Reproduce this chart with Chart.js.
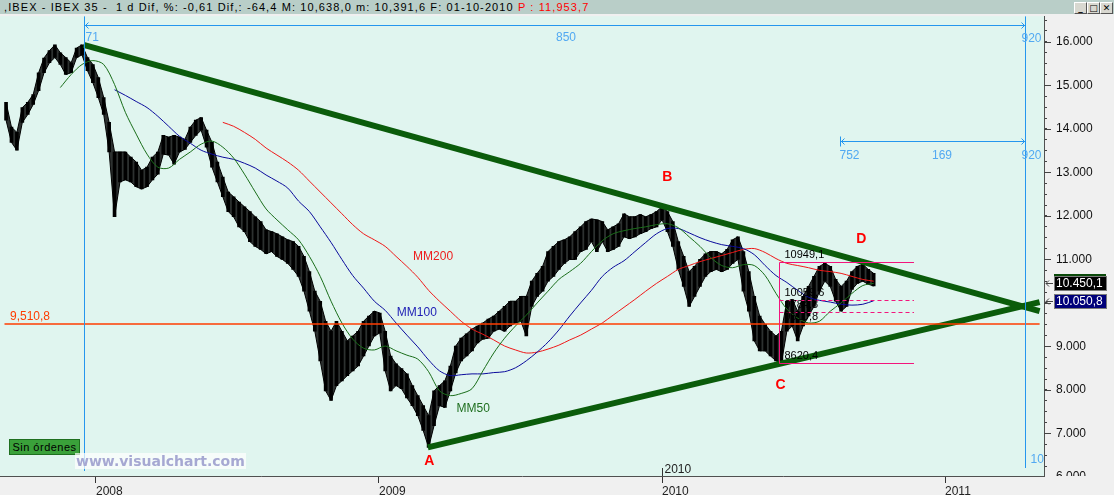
<!DOCTYPE html>
<html>
<head>
<meta charset="utf-8">
<title>IBEX 35</title>
<script src="https://cdn.jsdelivr.net/npm/chart.js@4.4.1/dist/chart.umd.min.js"></script>
<style>
  html, body { margin: 0; padding: 0; background: #f0f0f0; }
  #wrap { position: relative; width: 1114px; height: 495px; overflow: hidden; font-family: "Liberation Sans", Arial, sans-serif; }
  #chart { position: absolute; left: 0; top: 0; }
  #bar { position: absolute; left: 0; top: 0; width: 1114px; height: 14px; background: #b9cec8; }
  #btext { position: absolute; left: 4px; top: 0; font-size: 11px; line-height: 14px; white-space: pre; letter-spacing: 1.1px; color: #000; }
  #btext .p { color: #f00; }
  .wbtn { position: absolute; top: 2px; width: 11px; height: 10px; background: #d8d8d0; border: 1px solid; border-color: #fff #555 #555 #fff; font: bold 9px/10px "DejaVu Sans", sans-serif; text-align: center; color: #000; }
  #orders { position: absolute; left: 9px; top: 439px; width: 69px; height: 14px; background: #3aa13a; border: 1px solid #1f6f1f; font-size: 11px; line-height: 14px; text-align: center; letter-spacing: 0.5px; color: #000; }
  #mark { position: absolute; left: 75px; top: 453px; height: 16px; padding: 0 1px; background: rgba(255,255,255,0.7); font: bold 14px/16px "DejaVu Sans", sans-serif; color: #a6a8d2; }
</style>
</head>
<body>
<div id="wrap">
  <canvas id="chart" width="1114" height="495"></canvas>
  <div id="bar">
    <span id="btext">,IBEX - IBEX 35 -  1 d Dif, %: -0,61 Dif,: -64,4 M: 10,638,0 m: 10,391,6 F: 01-10-2010 <span class="p">P : 11,953,7</span></span>
    <div class="wbtn" style="left:1074px">_</div>
    <div class="wbtn" style="left:1087px">□</div>
    <div class="wbtn" style="left:1100px">✕</div>
  </div>
  <div id="orders">Sin órdenes</div>
  <div id="mark">www.visualchart.com</div>
</div>
<script>
// weekly bars (Fridays)
const weeks = [
  '2007-09-07','2007-09-14','2007-09-21','2007-09-28','2007-10-05','2007-10-12','2007-10-19','2007-10-26','2007-11-02','2007-11-09',
  '2007-11-16','2007-11-23','2007-11-30','2007-12-07','2007-12-14','2007-12-21','2007-12-28','2008-01-04','2008-01-11','2008-01-18',
  '2008-01-25','2008-02-01','2008-02-08','2008-02-15','2008-02-22','2008-02-29','2008-03-07','2008-03-14','2008-03-21','2008-03-28',
  '2008-04-04','2008-04-11','2008-04-18','2008-04-25','2008-05-02','2008-05-09','2008-05-16','2008-05-23','2008-05-30','2008-06-06',
  '2008-06-13','2008-06-20','2008-06-27','2008-07-04','2008-07-11','2008-07-18','2008-07-25','2008-08-01','2008-08-08','2008-08-15',
  '2008-08-22','2008-08-29','2008-09-05','2008-09-12','2008-09-19','2008-09-26','2008-10-03','2008-10-10','2008-10-17','2008-10-24',
  '2008-10-31','2008-11-07','2008-11-14','2008-11-21','2008-11-28','2008-12-05','2008-12-12','2008-12-19','2008-12-26','2009-01-02',
  '2009-01-09','2009-01-16','2009-01-23','2009-01-30','2009-02-06','2009-02-13','2009-02-20','2009-02-27','2009-03-06','2009-03-13',
  '2009-03-20','2009-03-27','2009-04-03','2009-04-10','2009-04-17','2009-04-24','2009-05-01','2009-05-08','2009-05-15','2009-05-22',
  '2009-05-29','2009-06-05','2009-06-12','2009-06-19','2009-06-26','2009-07-03','2009-07-10','2009-07-17','2009-07-24','2009-07-31',
  '2009-08-07','2009-08-14','2009-08-21','2009-08-28','2009-09-04','2009-09-11','2009-09-18','2009-09-25','2009-10-02','2009-10-09',
  '2009-10-16','2009-10-23','2009-10-30','2009-11-06','2009-11-13','2009-11-20','2009-11-27','2009-12-04','2009-12-11','2009-12-18',
  '2009-12-25','2010-01-01','2010-01-08','2010-01-15','2010-01-22','2010-01-29','2010-02-05','2010-02-12','2010-02-19','2010-02-26',
  '2010-03-05','2010-03-12','2010-03-19','2010-03-26','2010-04-02','2010-04-09','2010-04-16','2010-04-23','2010-04-30','2010-05-07',
  '2010-05-14','2010-05-21','2010-05-28','2010-06-04','2010-06-11','2010-06-18','2010-06-25','2010-07-02','2010-07-09','2010-07-16',
  '2010-07-23','2010-07-30','2010-08-06','2010-08-13','2010-08-20','2010-08-27','2010-09-03','2010-09-10','2010-09-17','2010-09-24',
  '2010-10-01'
];
const highs = [
  14610,14040,13920,14490,14610,14790,15290,15630,15800,15930,
  15750,15640,15520,15860,15930,15640,15480,15180,14720,14150,
  13470,13470,13470,13350,13240,13050,13120,13350,13470,13850,
  13810,13850,13810,13760,14040,14200,14260,13970,13690,13240,
  12890,12550,12440,12320,12210,12100,11980,11870,11680,11640,
  11590,11520,11450,11410,11300,11070,10720,10270,10040,9580,
  9350,9580,9350,9130,9240,9350,9580,9700,9810,9770,
  9350,8780,8600,8490,8370,8100,7870,7640,7410,7980,
  8100,8210,8550,9010,9190,9290,9400,9470,9540,9630,
  9700,9810,9920,10040,10040,10150,10150,10500,10680,10840,
  11180,11300,11410,11450,11520,11640,11750,11870,11930,11910,
  11870,11680,11750,11820,12050,11980,11980,12030,11980,12030,
  12100,12210,12100,11870,11410,11070,10720,10840,11000,11130,
  11180,11180,11130,11230,11450,11520,11180,10720,10150,9700,
  9510,9350,9240,9350,10040,10080,9810,10150,10380,10610,
  10840,10910,10840,10540,10380,10500,10720,10840,10890,10770,
  10680
];
const lows = [
  14200,13690,13510,14150,14330,14560,14880,15290,15520,15640,
  15480,15250,15290,15640,15700,15340,15060,14720,14330,13470,
  11980,12780,12830,12780,12670,12620,12670,12830,12960,13420,
  13400,13190,13470,13530,13690,13850,13970,13580,13120,12780,
  12440,12100,11980,11750,11640,11410,11300,11230,11130,11180,
  11070,11000,10910,10770,10610,10270,9810,9350,8670,7980,
  7760,8100,8210,8330,8440,8550,8780,9010,9240,9310,
  8440,7980,8100,8030,7820,7640,7410,7070,6680,7180,
  7640,7600,7980,8390,8670,8780,8900,9080,9170,9190,
  9350,9400,9350,9470,9540,9580,9240,9920,10150,10270,
  10500,10610,10770,10910,11000,11000,11180,11230,11410,11180,
  11410,11180,11230,11300,11520,11480,11520,11590,11640,11710,
  11750,11910,11640,11300,10770,10380,9920,10150,10380,10610,
  10720,10770,10720,10770,10910,11000,10270,9810,9130,8900,
  8900,8780,8670,8620,9350,9470,9130,9470,9700,9920,
  10270,10500,10380,10040,9810,9920,10310,10450,10500,10430,
  10390
];
// moving averages, read every second week
const ma50 = [
  null,null,null,null,null,14950,15250,15480,15570,15480,
  15020,14380,13880,13420,13120,13100,13300,13470,13650,13720,
  13580,13330,12960,12550,12160,11910,11680,11450,11070,10610,
  10040,9540,9170,8960,8920,9010,8900,8800,8710,8420,
  7980,7870,7920,8030,8440,8850,9190,9470,9720,10000,
  10270,10540,10720,10910,11180,11430,11590,11660,11710,11750,
  11800,11820,11730,11520,11300,11040,10860,10810,10880,10860,
  10630,10220,9860,9650,9540,9580,9810,10000,10220,10400,
  10450
];
const ma100 = [
  null,null,null,null,null,null,null,null,null,null,
  14900,14770,14630,14490,14290,14060,13830,13670,13510,13420,
  13350,13300,13210,13100,12940,12800,12640,12340,12100,11750,
  11390,11000,10630,10340,10040,9830,9540,9260,8990,8690,
  8440,8330,8350,8370,8370,8400,8420,8510,8670,8870,
  9100,9380,9700,10000,10290,10610,10820,10970,11180,11390,
  11590,11710,11710,11610,11500,11410,11340,11300,11250,11110,
  10860,10630,10470,10290,10130,10060,10020,9970,9950,9970,
  10050
];
const ma200 = [
  null,null,null,null,null,null,null,null,null,null,
  null,null,null,null,null,null,null,null,null,null,
  14150,14060,13920,13760,13560,13400,13240,13050,12800,12550,
  12300,12050,11800,11590,11450,11300,11070,10840,10590,10290,
  10040,9810,9580,9400,9280,9150,9010,8920,8850,8870,
  8940,9030,9150,9260,9400,9540,9720,9900,10080,10270,
  10450,10610,10770,10860,10950,11020,11090,11160,11230,11250,
  11160,11020,10910,10860,10810,10750,10720,10680,10610,10540,
  10500
];
// triangle lines
const upperTrendDates = ['2007-12-16', '2011-05-03'];
const upperTrend = [15930, 9810];
const lowerTrendDates = ['2009-03-05', '2011-05-03'];
const lowerTrend = [6680, 10020];
// levels
const supportLevel = 9510.8;
const supportDates = ['2007-09-05', '2011-05-03'];
const fibLevels = [10949.1, 10059.6, 9784.8, 9510.8, 8620.4];
const fibText = ['10949,1', '10059,6', '9784,8', '9510,8', '8620,4'];
const fibDates = ['2010-06-01', '2010-11-22'];
const countDates = ['2007-12-16', '2010-08-18', '2011-04-14'];
const countLevels = [16380, 13730];
const lastClose = 10450.1;
const lastMa100 = 10050.8;
const yearTicks = [2008, 2009, 2010, 2011];
const letterNotes = [['A', '2009-03-07', 6366], ['B', '2010-01-08', 12885], ['C', '2010-06-03', 8104], ['D', '2010-09-15', 11467]];
const maNotes = [['MM200', '2009-02-14', 11055], ['MM100', '2009-01-24', 9774], ['MM50', '2009-04-11', 7578]];
const maColors = ['#ee1c1c', '#1c1cb4', '#1f6f1f'];

function toYear(s) {
  const [y, m, d] = s.split('-').map(Number);
  const t0 = Date.UTC(y, 0, 1), t1 = Date.UTC(y + 1, 0, 1);
  return y + (Date.UTC(y, m - 1, d) - t0) / (t1 - t0);
}
const fmt = v => (v / 1000).toFixed(3);

const maDates = weeks.filter((d, i) => i % 2 === 0);
const pts = (dates, vals) => vals.map((v, i) => ({ x: toYear(dates[i]), y: v }));
const ranges = weeks.map((d, i) => ({ x: toYear(d), y: [lows[i], highs[i]] }));

function line(data, color, width, order, extra) {
  return Object.assign({ type: 'line', data, borderColor: color, backgroundColor: color, borderWidth: width, pointRadius: 0, tension: 0, fill: false, order }, extra || {});
}

const X = (c, d) => c.scales.x.getPixelForValue(typeof d === 'string' ? toYear(d) : d);
const Y = (c, v) => c.scales.y.getPixelForValue(v);

const overlay = {
  id: 'overlay',
  beforeDraw(c) {
    const { ctx, chartArea: a } = c;
    ctx.save();
    ctx.fillStyle = '#f0f0f0';
    ctx.fillRect(0, 0, c.width, c.height);
    ctx.fillStyle = '#e0f5ef';
    ctx.fillRect(a.left, a.top, a.right - a.left, a.bottom - a.top);
    ctx.restore();
  },
  afterDatasetsDraw(c) {
    const { ctx, chartArea: a } = c;
    ctx.save();
    ctx.beginPath();
    ctx.rect(a.left, a.top, a.right - a.left, a.bottom - a.top);
    ctx.clip();

    // horizontal support
    const sy = Math.round(Y(c, supportLevel));
    ctx.strokeStyle = '#ff3c00';
    ctx.lineWidth = 1.5;
    ctx.beginPath();
    ctx.moveTo(X(c, supportDates[0]), sy);
    ctx.lineTo(X(c, supportDates[1]), sy);
    ctx.stroke();
    ctx.fillStyle = '#ff3c00';
    ctx.font = '12px "Liberation Sans"';
    ctx.textBaseline = 'bottom';
    ctx.fillText('9,510,8', a.left + 10, sy - 1);

    // fibo box
    const fx0 = Math.round(X(c, fibDates[0])) + 0.5, fx1 = X(c, fibDates[1]);
    const fy = fibLevels.map(v => Math.round(Y(c, v)) + 0.5);
    ctx.strokeStyle = '#f3157c';
    ctx.lineWidth = 1;
    ctx.beginPath();
    ctx.moveTo(fx1, fy[0]); ctx.lineTo(fx0, fy[0]); ctx.lineTo(fx0, fy[4]); ctx.lineTo(fx1, fy[4]);
    ctx.stroke();
    ctx.setLineDash([4, 3]);
    ctx.beginPath();
    ctx.moveTo(fx0, fy[1]); ctx.lineTo(fx1, fy[1]);
    ctx.moveTo(fx0, fy[2]); ctx.lineTo(fx1, fy[2]);
    ctx.stroke();
    ctx.setLineDash([]);
    ctx.fillStyle = '#000';
    ctx.font = '11px "Liberation Sans"';
    fibText.forEach((t, i) => ctx.fillText(t, fx0 + 5, fy[i] - 2));

    // bar count rulers
    const cx0 = Math.round(X(c, countDates[0])) + 0.5;
    const cx1 = Math.round(X(c, countDates[1])) + 0.5;
    const cx2 = Math.round(X(c, countDates[2])) + 0.5;
    const cy0 = Math.round(Y(c, countLevels[0])) + 0.5;
    const cy1 = Math.round(Y(c, countLevels[1])) + 0.5;
    ctx.strokeStyle = '#2596ee';
    ctx.lineWidth = 1;
    ctx.beginPath();
    ctx.moveTo(cx0, a.top); ctx.lineTo(cx0, a.bottom - 5);
    ctx.moveTo(cx2, a.top); ctx.lineTo(cx2, a.bottom - 8);
    ctx.moveTo(cx0, cy0); ctx.lineTo(cx2, cy0);
    ctx.moveTo(cx1, cy1); ctx.lineTo(cx2, cy1);
    [[cx0, cy0, 1], [cx2, cy0, -1], [cx1, cy1, 1], [cx2, cy1, -1]].forEach(([px, py, s]) => {
      ctx.moveTo(px + 4 * s, py - 3); ctx.lineTo(px + s, py); ctx.lineTo(px + 4 * s, py + 3);
    });
    ctx.moveTo(cx1, cy1 - 5); ctx.lineTo(cx1, cy1 + 5);
    ctx.stroke();
    ctx.fillStyle = '#52a9f2';
    ctx.font = '12px "Liberation Sans"';
    ctx.textBaseline = 'alphabetic';
    ctx.fillText('71', cx0 + 1, cy0 + 15);
    ctx.fillText('920', cx2 - 4, cy0 + 16);
    ctx.fillText('752', cx1 - 1, cy1 + 17);
    ctx.fillText('920', cx2 - 4, cy1 + 17);
    ctx.textAlign = 'center';
    ctx.fillText('850', (cx0 + cx2) / 2 + 11, cy0 + 15);
    ctx.fillText('169', (cx1 + cx2) / 2 + 9, cy1 + 17);
    ctx.textAlign = 'left';
    ctx.fillText('10.', cx2 + 5, a.bottom - 13);

    // A B C D
    ctx.fillStyle = '#ff0000';
    ctx.font = 'bold 14px "Liberation Sans"';
    ctx.textAlign = 'center';
    ctx.textBaseline = 'middle';
    letterNotes.forEach(([t, d, v]) => ctx.fillText(t, X(c, d), Y(c, v)));

    // moving average tags
    ctx.font = '12px "Liberation Sans"';
    ctx.textAlign = 'left';
    maNotes.forEach(([t, d, v], i) => {
      ctx.fillStyle = maColors[i];
      ctx.fillText(t, X(c, d), Y(c, v));
    });

    // inner year mark
    const x10 = Math.round(X(c, 2010)) + 0.5;
    ctx.strokeStyle = '#333';
    ctx.beginPath();
    ctx.moveTo(x10, a.bottom - 8); ctx.lineTo(x10, a.bottom);
    ctx.stroke();
    ctx.fillStyle = '#222';
    ctx.textBaseline = 'bottom';
    ctx.fillText('2010', x10 + 2, a.bottom);
    ctx.restore();
  },
  afterDraw(c) {
    const { ctx, chartArea: a } = c;
    ctx.save();
    // longer ticks on the thousands
    ctx.strokeStyle = '#444';
    ctx.lineWidth = 1;
    ctx.beginPath();
    for (let v = 7000; v <= 16000; v += 1000) {
      const yy = Math.round(Y(c, v)) + 0.5;
      ctx.moveTo(a.right, yy); ctx.lineTo(a.right + 7, yy);
    }
    ctx.stroke();
    // 6.000 cut by the bottom edge
    ctx.save();
    ctx.beginPath();
    ctx.rect(a.right + 1, a.top, 80, a.bottom - a.top);
    ctx.clip();
    ctx.fillStyle = '#111';
    ctx.font = '12px "Liberation Sans"';
    ctx.textBaseline = 'middle';
    ctx.fillText(fmt(6000), a.right + 12, Y(c, 6000));
    ctx.restore();

    // last values
    const boxes = [[lastClose, '#000', '#0a4a0a'], [lastMa100, '#00007a', null]];
    ctx.font = '12px "Liberation Sans"';
    boxes.forEach(([v, bg, top]) => {
      const yy = Math.round(Y(c, v));
      if (top) { ctx.fillStyle = top; ctx.fillRect(a.right + 10, yy - 9, 52, 3); }
      ctx.fillStyle = bg;
      ctx.fillRect(a.right + 10, yy - 7, 53, 15);
      ctx.strokeStyle = '#7a7a7a';
      ctx.strokeRect(a.right + 10.5, yy - 6.5, 52, 14);
      ctx.fillStyle = '#fff';
      ctx.textBaseline = 'middle';
      ctx.fillText(v.toFixed(1).replace('.', ',').replace(/^(\d+)(\d{3}),/, '$1.$2,'), a.right + 12, yy + 1);
      ctx.strokeStyle = '#444';
      ctx.beginPath();
      ctx.moveTo(a.right + 9, yy + 0.5); ctx.lineTo(a.right + 2, yy + 0.5);
      ctx.moveTo(a.right + 5, yy - 2.5); ctx.lineTo(a.right + 2, yy + 0.5); ctx.lineTo(a.right + 5, yy + 3.5);
      ctx.stroke();
    });
    ctx.restore();
  }
};

new Chart(document.getElementById('chart'), {
  type: 'bar',
  data: {
    datasets: [
      line(pts(upperTrendDates, upperTrend), '#0b5c0b', 6, 0),
      line(pts(lowerTrendDates, lowerTrend), '#0b5c0b', 6, 0),
      line(pts(maDates, ma50), '#1a6e1a', 1, 1, { tension: 0.3 }),
      line(pts(maDates, ma100), '#0a0a9c', 1, 1, { tension: 0.3 }),
      line(pts(maDates, ma200), '#f01818', 1, 1, { tension: 0.3 }),
      line(pts(weeks, highs), '#000', 1, 2),
      line(pts(weeks, lows), '#000', 1, 2, { fill: '-1', backgroundColor: 'rgba(0,0,0,0.8)' }),
      { type: 'bar', data: ranges, backgroundColor: '#000', borderWidth: 0, barThickness: 3, grouped: false, order: 2 }
    ]
  },
  options: {
    responsive: false,
    animation: false,
    devicePixelRatio: 1,
    layout: { padding: { top: 14, left: 0, right: 0, bottom: 0 } },
    plugins: { legend: { display: false }, tooltip: { enabled: false } },
    scales: {
      x: {
        type: 'linear',
        position: 'bottom',
        offset: false,
        min: 2007.6608,
        max: 2011.3498,
        afterFit: s => { s.height = 19; },
        afterBuildTicks: s => { s.ticks = yearTicks.map(v => ({ value: v })); },
        ticks: { callback: v => String(v), align: 'start', autoSkip: false, maxRotation: 0, padding: 1, color: '#222', font: { family: 'Liberation Sans', size: 12 } },
        grid: { drawOnChartArea: false, offset: false, tickLength: 7, color: '#333' },
        border: { color: '#505050', width: 1 }
      },
      y: {
        type: 'linear',
        position: 'right',
        min: 6023,
        max: 16590,
        afterFit: s => { s.width = 70; },
        afterBuildTicks: s => { s.ticks = s.ticks.filter(t => t.value >= s.min && t.value <= s.max); },
        ticks: { stepSize: 250, includeBounds: false, autoSkip: false, padding: 9, color: '#111', font: { family: 'Liberation Sans', size: 12 }, callback: v => (v % 1000 === 0 ? fmt(v) : '') },
        grid: { drawOnChartArea: false, tickLength: 3, color: '#444' },
        border: { color: '#505050', width: 1 }
      }
    }
  },
  plugins: [overlay]
});
</script>
</body>
</html>
